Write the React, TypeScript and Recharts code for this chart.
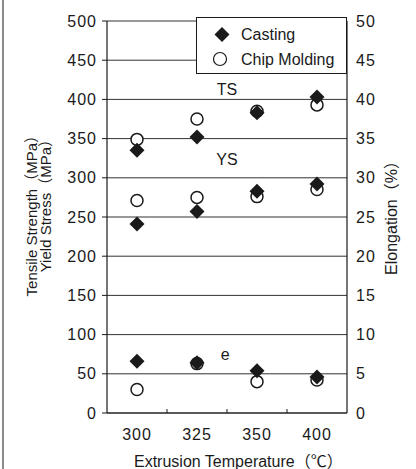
import React from 'react';
import { ScatterChart, Scatter, XAxis, YAxis, CartesianGrid, Legend, ReferenceDot } from 'recharts';

const categories = ['300', '325', '350', '400'];
const tsCasting = [335, 352, 383, 403];
const tsChip = [349, 375, 385, 393];
const ysCasting = [241, 257, 283, 292];
const ysChip = [271, 275, 276, 285];
const elCasting = [6.6, 6.4, 5.4, 4.6];
const elChip = [3.0, 6.3, 4.0, 4.2];
const leftTicks = [0, 50, 100, 150, 200, 250, 300, 350, 400, 450, 500];
const rightTicks = [0, 5, 10, 15, 20, 25, 30, 35, 40, 45, 50];
const xTicks = [0.5, 1, 1.5, 2, 2.5, 3, 3.5];

const FONT = '"Liberation Sans", Arial, "Noto Sans CJK JP", sans-serif';
const INK = '#1a1a1a';

const toPoints = (vals: number[]) => vals.map((v, i) => ({ x: i + 0.5, y: v }));

const Diamond = (p: any) => {
  const { cx, cy } = p;
  const s = 7.5;
  return <path d={`M${cx},${cy - s}L${cx + s},${cy}L${cx},${cy + s}L${cx - s},${cy}Z`} fill={INK} />;
};
const Ring = (p: any) => <circle cx={p.cx} cy={p.cy} r={6} fill="#fff" stroke={INK} strokeWidth={1.5} />;

const XTick = (p: any) => {
  const { x, y, payload } = p;
  const v = payload.value;
  if (Number.isInteger(v)) {
    return <line x1={x} x2={x} y1={y - 4} y2={y} stroke={INK} strokeWidth={1} />;
  }
  return (
    <text x={x} y={y + 27} textAnchor="middle" fontSize={16} fontFamily={FONT} fill={INK} letterSpacing={1}>
      {categories[Math.floor(v)]}
    </text>
  );
};

const LegendBox = () => (
  <div
    style={{
      width: 151,
      height: 57,
      boxSizing: 'border-box',
      border: `1.5px solid ${INK}`,
      background: '#fff',
      position: 'relative',
      fontFamily: FONT,
      fontSize: 16,
      color: INK,
    }}
  >
    <svg width={151} height={57} style={{ position: 'absolute', left: -1.5, top: -1.5 }}>
      <path d="M26,10L33.5,17.5L26,25L18.5,17.5Z" fill={INK} />
      <circle cx={24} cy={42} r={6.5} fill="#fff" stroke={INK} strokeWidth={1.2} />
      <text x={45} y={23} fontSize={16} fontFamily={FONT} fill={INK}>Casting</text>
      <text x={45} y={48} fontSize={16} fontFamily={FONT} fill={INK}>Chip Molding</text>
    </svg>
  </div>
);

const LeftTitle = (p: any) => {
  const x = 31;
  const y = 128;
  return (
    <g fontFamily={FONT} fontSize={15} fill={INK}>
      <text x={x} y={y} transform={`rotate(-90, ${x}, ${y})`} textAnchor="end" dominantBaseline="central">
        Tensile Strength（MPa）
      </text>
      <text x={x + 14} y={y + 4} transform={`rotate(-90, ${x + 14}, ${y + 4})`} textAnchor="end" dominantBaseline="central">
        Yield Stress（MPa）
      </text>
    </g>
  );
};

const RightTitle = () => {
  const x = 391;
  const y = 214;
  return (
    <text x={x} y={y} transform={`rotate(-90, ${x}, ${y})`} textAnchor="middle" dominantBaseline="central" fontFamily={FONT} fontSize={16} fill={INK}>
      Elongation（%）
    </text>
  );
};

const BottomTitle = () => (
  <text x={134} y={467} textAnchor="start" fontFamily={FONT} fontSize={16} fill={INK}>
    Extrusion Temperature（℃）
  </text>
);

export default function App() {
  const tickStyle = { fontSize: 16, fontFamily: FONT, fill: INK, letterSpacing: 1 } as any;
  return (
    <div style={{ position: 'absolute', left: 0, top: 0, width: 416, height: 469, background: '#fff' }}>
      <div style={{ position: 'absolute', left: 2, top: 0, width: 2, height: 469, background: '#8a8a8a' }} />
      <ScatterChart width={416} height={469} margin={{ top: 21, right: 9, bottom: 26, left: 47 }}>
        <CartesianGrid vertical={false} stroke="#333" strokeWidth={1} />
        <XAxis
          type="number"
          dataKey="x"
          domain={[0, 4]}
          ticks={xTicks}
          interval={0}
          tickLine={false}
          tickSize={0}
          tickMargin={0}
          height={30}
          axisLine={{ stroke: INK, strokeWidth: 1.2 }}
          tick={<XTick />}
          label={<BottomTitle />}
        />
        <YAxis
          type="number"
          dataKey="y"
          domain={[0, 500]}
          ticks={leftTicks}
          interval={0}
          width={60}
          tickSize={5}
          tickMargin={5}
          tickLine={{ stroke: INK }}
          axisLine={{ stroke: INK, strokeWidth: 1.2 }}
          tick={tickStyle}
          label={<LeftTitle />}
        />
        <YAxis
          yAxisId="right"
          orientation="right"
          type="number"
          dataKey="y"
          domain={[0, 50]}
          ticks={rightTicks}
          interval={0}
          width={60}
          tickSize={0}
          tickMargin={9}
          tickLine={false}
          axisLine={{ stroke: INK, strokeWidth: 1.2 }}
          tick={{ ...tickStyle, textAnchor: 'start' }}
          label={<RightTitle />}
        />
        <Scatter name="Chip Molding TS" data={toPoints(tsChip)} shape={<Ring />} isAnimationActive={false} legendType="none" />
        <Scatter name="Chip Molding YS" data={toPoints(ysChip)} shape={<Ring />} isAnimationActive={false} legendType="none" />
        <Scatter name="Chip Molding e" yAxisId="right" data={toPoints(elChip)} shape={<Ring />} isAnimationActive={false} legendType="none" />
        <Scatter name="Casting TS" data={toPoints(tsCasting)} shape={<Diamond />} isAnimationActive={false} legendType="none" />
        <Scatter name="Casting YS" data={toPoints(ysCasting)} shape={<Diamond />} isAnimationActive={false} legendType="none" />
        <Scatter name="Casting e" yAxisId="right" data={toPoints(elCasting)} shape={<Diamond />} isAnimationActive={false} legendType="none" />
        <ReferenceDot x={2} y={413} r={0} label={{ value: 'TS', fontSize: 16, fontFamily: FONT, fill: INK, position: 'center' }} />
        <ReferenceDot x={2} y={323} r={0} label={{ value: 'YS', fontSize: 16, fontFamily: FONT, fill: INK, position: 'center' }} />
        <ReferenceDot x={1.97} y={75} r={0} label={{ value: 'e', fontSize: 16, fontFamily: FONT, fill: INK, position: 'center' }} />
        <Legend
          layout="horizontal"
          verticalAlign="middle"
          align="center"
          content={<LegendBox />}
          wrapperStyle={{ left: 196, top: 17, width: 151, height: 57, margin: 0 }}
        />
      </ScatterChart>
    </div>
  );
}
